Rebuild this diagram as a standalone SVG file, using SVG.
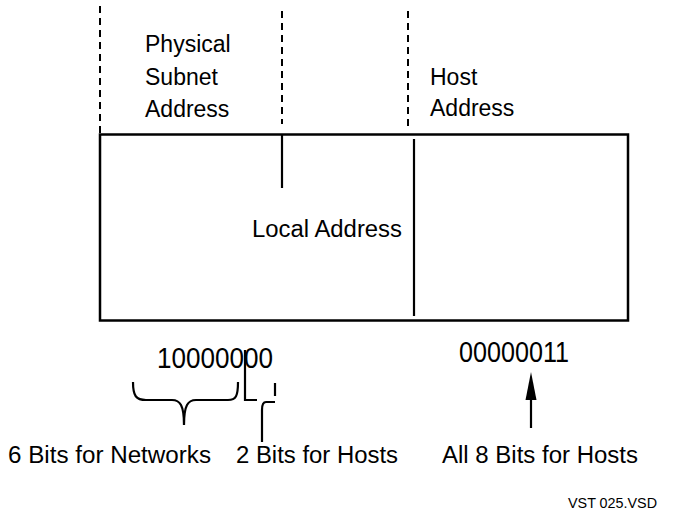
<svg xmlns="http://www.w3.org/2000/svg" width="694" height="519" viewBox="0 0 694 519">
<style>
.t{font-family:"Liberation Sans",Arial,sans-serif;fill:#000}
.lbl{font-size:23px}
.num{font-size:29px}
.ln{stroke:#000;fill:none;stroke-width:2.2}
.dash{stroke:#000;fill:none;stroke-width:2;stroke-dasharray:7,5}
</style>
<rect width="694" height="519" fill="#fff"/>
<g id="connectors">
<line class="dash" x1="100" y1="6" x2="100" y2="134"/>
<line class="dash" x1="282" y1="11" x2="282" y2="124"/>
<line class="dash" x1="408" y1="11" x2="408" y2="126"/>
<path class="ln" stroke-width="2.5" d="M133,382 C133,396 136,400 146,400 L172,400 C180,400 184,405 184,425 M184,425 C184,405 188,400 196,400 L228,400 C236,400 238,396 238,382"/>
<path class="ln" stroke-width="3" d="M245,350 L245,400 L257,400"/>
<path class="ln" stroke-width="2" d="M275,383 L275,396"/>
<path class="ln" stroke-width="2.8" d="M275,402 L266,402 Q262,402 262,410 L262,442"/>
<line class="ln" stroke-width="2.5" x1="531" y1="398" x2="531" y2="428"/>
<polygon points="531,372 525.5,400 536.5,400" fill="#000"/>
</g>
<g id="address-box">
<rect x="100" y="134.5" width="528" height="186" fill="none" stroke="#000" stroke-width="2.5"/>
<line class="ln" x1="282" y1="134" x2="282" y2="188"/>
<line class="ln" x1="414" y1="139" x2="414" y2="316"/>
<text class="t lbl" x="252" y="237" textLength="150" lengthAdjust="spacingAndGlyphs">Local Address</text>
</g>
<g id="physical-subnet-address">
<text class="t lbl" x="145" y="52">Physical</text>
<text class="t lbl" x="145" y="85">Subnet</text>
<text class="t lbl" x="145" y="117">Address</text>
</g>
<g id="host-address">
<text class="t lbl" x="430" y="85">Host</text>
<text class="t lbl" x="430" y="116">Address</text>
</g>
<g id="subnet-bits">
<text class="t num" x="157" y="368" textLength="116" lengthAdjust="spacingAndGlyphs">10000000</text>
<text class="t lbl" x="8" y="463" textLength="203" lengthAdjust="spacingAndGlyphs">6 Bits for Networks</text>
<text class="t lbl" x="236" y="463" textLength="162" lengthAdjust="spacingAndGlyphs">2 Bits for Hosts</text>
</g>
<g id="host-bits">
<text class="t num" x="459" y="362" textLength="110" lengthAdjust="spacingAndGlyphs">00000011</text>
<text class="t lbl" x="442" y="463" textLength="196" lengthAdjust="spacingAndGlyphs">All 8 Bits for Hosts</text>
</g>
<text class="t" font-size="14" x="568" y="508" textLength="89" lengthAdjust="spacingAndGlyphs">VST  025.VSD</text>
</svg>
